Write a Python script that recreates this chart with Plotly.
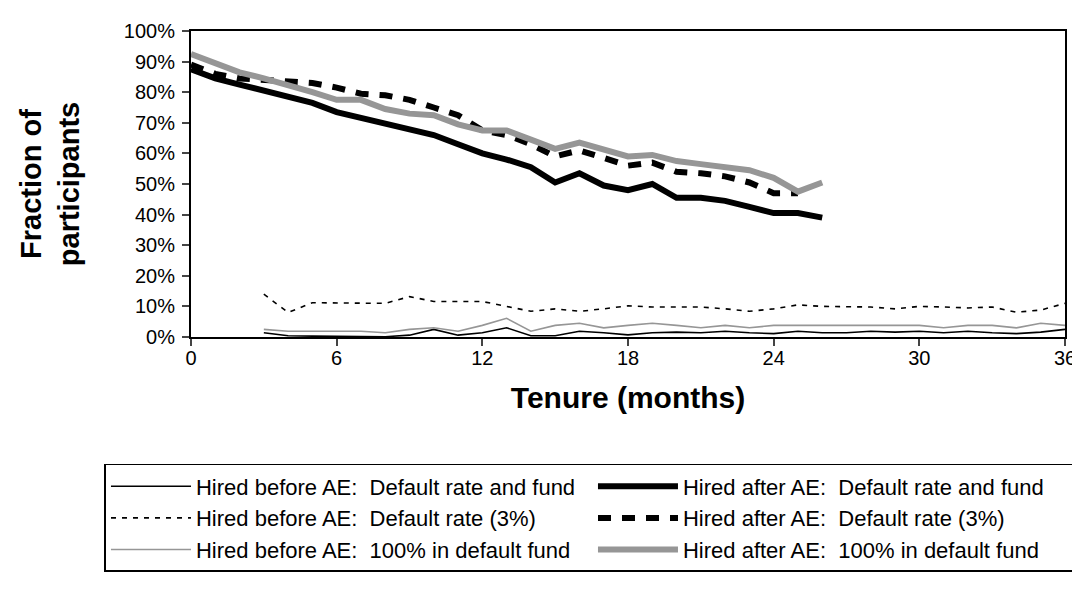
import plotly.graph_objects as go

months_after = list(range(0, 27))
months_after_rate3 = list(range(0, 26))
months_before = list(range(3, 37))

after_rate_fund = [87.5, 84.5, 82.5, 80.5, 78.5, 76.5, 73.5, 71.5, 69.5, 67.5, 66, 63, 60, 58, 55.5,
                   50.5, 53.5, 49.5, 48, 50, 45.5, 45.5, 44.5, 42.5, 40.5, 40.5, 39]
after_rate3 = [89, 86, 84.5, 84, 83.5, 83, 81.5, 79.5, 79, 77.5, 75, 72.5, 67.5, 66, 63,
               59, 61, 58.5, 56, 57, 54, 53.5, 52.5, 50.5, 47, 47]
after_fund100 = [92.5, 89.5, 86.5, 84.5, 82.5, 80, 77.5, 77.5, 74.5, 73, 72.5, 69.5, 67.5, 67.5, 64.5,
                 61.5, 63.5, 61.5, 59, 59.5, 57.5, 56.5, 55.5, 54.5, 52, 47.5, 50.5]

before_rate_fund = [1.4, 0.4, 0.3, 0.3, 0.3, 0.1, 0.6, 2.5, 0.6, 1.4, 3, 0.4, 0.4, 1.9, 1.4, 0.7,
                    1.4, 1.6, 1.4, 1.9, 1.4, 1.1, 1.9, 1.4, 1.4, 1.9, 1.6, 1.9, 1.4, 1.9, 1.4,
                    1.1, 1.6, 2.5]
before_rate3 = [14, 8, 11.2, 11.2, 11.2, 11, 13.2, 11.6, 11.6, 11.6, 10, 8.4, 9.2, 8.4, 9.2, 10.2,
                9.8, 9.8, 9.8, 9.2, 8.4, 9.2, 10.5, 10, 9.8, 9.8, 9.2, 10, 9.8, 9.5, 9.8,
                8.1, 8.8, 11]
before_fund100 = [2.5, 1.9, 1.9, 1.9, 1.9, 1.4, 2.5, 3, 1.9, 3.8, 6.1, 1.9, 3.8, 4.5, 3, 3.8,
                  4.5, 3.8, 3, 3.8, 3, 3.8, 3.8, 3.8, 3.8, 3.8, 3.8, 3.8, 3, 3.8, 3.8,
                  3, 4.5, 3.8]

x_ticks = [0, 6, 12, 18, 24, 30, 36]
y_ticks = list(range(0, 101, 10))
y_ticktext = [f"{v}%" for v in y_ticks]

names = {
    "brf": "Hired before AE:  Default rate and fund",
    "arf": "Hired after AE:  Default rate and fund",
    "br3": "Hired before AE:  Default rate (3%)",
    "ar3": "Hired after AE:  Default rate (3%)",
    "bfd": "Hired before AE:  100% in default fund",
    "afd": "Hired after AE:  100% in default fund",
}

GREY = "#969696"
fig = go.Figure()
fig.add_trace(go.Scatter(x=months_before, y=before_rate_fund, mode="lines", name=names["brf"],
                         line=dict(color="black", width=1.6), legendrank=1))
fig.add_trace(go.Scatter(x=months_before, y=before_rate3, mode="lines", name=names["br3"],
                         line=dict(color="black", width=1.6, dash="5px,6px"), legendrank=3))
fig.add_trace(go.Scatter(x=months_before, y=before_fund100, mode="lines", name=names["bfd"],
                         line=dict(color=GREY, width=1.6), legendrank=5))
fig.add_trace(go.Scatter(x=months_after, y=after_rate_fund, mode="lines", name=names["arf"],
                         line=dict(color="black", width=6), legendrank=2))
fig.add_trace(go.Scatter(x=months_after_rate3, y=after_rate3, mode="lines", name=names["ar3"],
                         line=dict(color="black", width=6, dash="13px,11px"), legendrank=4))
fig.add_trace(go.Scatter(x=months_after, y=after_fund100, mode="lines", name=names["afd"],
                         line=dict(color=GREY, width=6), legendrank=6))

FONT = "Liberation Sans, Arial, sans-serif"
fig.update_layout(
    width=1080, height=590,
    margin=dict(l=183, r=19, t=16, b=261),
    paper_bgcolor="white", plot_bgcolor="white",
    font=dict(family=FONT, color="black", size=20),
    showlegend=True,
    legend=dict(
        orientation="h", x=-0.099, xanchor="left", y=-0.415, yanchor="top",
        bordercolor="black", borderwidth=1.5, bgcolor="white",
        font=dict(size=22, family=FONT), itemwidth=80, entrywidth=392,
        traceorder="normal",
    ),
    xaxis=dict(
        range=[0, 36], tickmode="array", tickvals=x_ticks,
        ticks="outside", ticklen=7, tickwidth=2, showline=True, linecolor="black", linewidth=2,
        mirror=True, showgrid=False, zeroline=False,
        tickfont=dict(size=20), ticklabelstandoff=-5,
        title=dict(text="<b>Tenure (months)</b>", font=dict(size=30), standoff=19),
    ),
    yaxis=dict(
        range=[0, 100], tickmode="array", tickvals=y_ticks, ticktext=y_ticktext,
        ticks="outside", ticklen=7, tickwidth=2, showline=True, linecolor="black", linewidth=2,
        mirror=True, showgrid=False, zeroline=False,
        tickfont=dict(size=20), ticklabelstandoff=3,
        title=dict(text="<b>Fraction of<br>participants</b>", font=dict(size=29), standoff=36),
    ),
)

fig.write_html("out.html")
